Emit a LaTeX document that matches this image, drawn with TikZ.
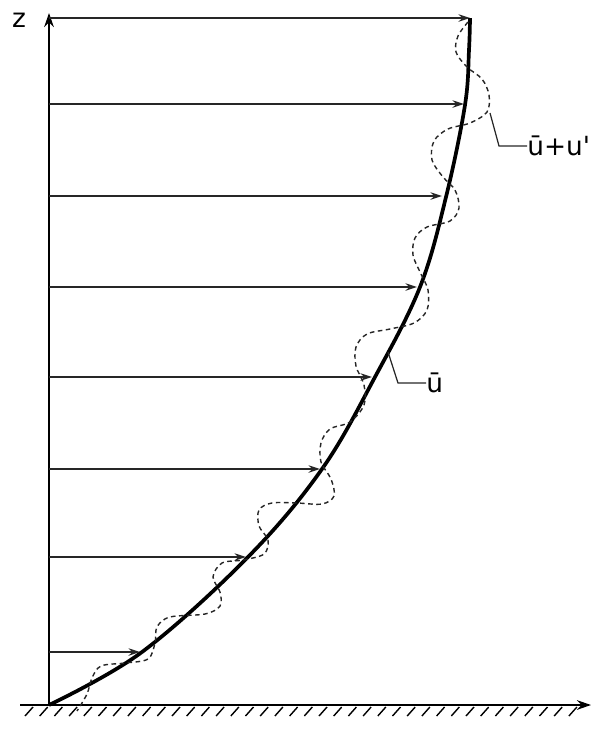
\documentclass[tikz,border=0pt]{standalone}
\usepackage{fontspec}
\setmainfont{DejaVu Sans}
\usetikzlibrary{arrows.meta}

\begin{document}
\begin{tikzpicture}[x=0.02cm, y=-0.02cm,
    axis/.style={line width=1.1pt, -{Stealth[length=8pt, width=5.5pt]}},
    vel/.style={line width=0.8pt, black!85, -{Stealth[length=6.5pt, width=4.2pt]}},
    mean/.style={line width=2.1pt},
    fluct/.style={line width=0.8pt, black!85, dash pattern=on 2.6pt off 2pt},
    leader/.style={line width=0.7pt, black!85},
    lbl/.style={font=\fontsize{15}{18}\selectfont, inner sep=0pt}]

    % 1. Khung hình (giữ đúng tỉ lệ)
    \useasboundingbox (0,0) rectangle (591,731);

    % 2. Các điểm trên profile vận tốc trung bình
    \coordinate (O) at (49,705);
    \coordinate (P1) at (470,18);
    \coordinate (P2) at (464,104);
    \coordinate (P3) at (442,196);
    \coordinate (P4) at (417,287);
    \coordinate (P5) at (372,377);
    \coordinate (P6) at (320,469);
    \coordinate (P7) at (246,557);
    \coordinate (P8) at (140,652);

    % 3. Mặt đất (gạch chéo) và các trục
    \foreach \x in {0,...,37}
        \draw[line width=0.8pt] (33+14.7*\x,707) -- (25+14.7*\x,716);
    \draw[axis] (20,705) -- (591,705);
    \draw[axis] (O) -- (49,13);
    \node[lbl] (z) at (19,20) {z};

    % 4. Các mũi tên vận tốc
    \draw[vel] (O |- P1) -- (P1);
    \draw[vel] (O |- P2) -- (P2);
    \draw[vel] (O |- P3) -- (P3);
    \draw[vel] (O |- P4) -- (P4);
    \draw[vel] (O |- P5) -- (P5);
    \draw[vel] (O |- P6) -- (P6);
    \draw[vel] (O |- P7) -- (P7);
    \draw[vel] (O |- P8) -- (P8);

    % 5. Đường vận tốc trung bình
    \draw[mean] plot[smooth, tension=0.6] coordinates {(49,705) (142,652) (248,557)
        (322,469) (375,377) (420,287) (446,197) (465,105) (469,50) (470,18)};

    % 6. Đường vận tốc tức thời (nét đứt)
    \draw[fluct] plot[smooth, tension=0.55] coordinates {(468,22) (458,36) (456,52)
        (467,67) (482,79) (489,95) (487,112) (470,123) (448,129) (434,141) (432,160)
        (443,177) (455,190) (459,208) (450,221) (427,227) (415,238) (413,255)
        (420,272) (428,290) (427,310) (414,323) (390,329) (367,334) (356,347)
        (356,366) (364,385) (364,405) (350,422) (330,429) (321,443) (321,462)
        (331,479) (334,496) (322,504) (297,503) (272,503) (259,510) (259,526)
        (268,540) (264,554) (243,560) (222,563) (213,577) (220,592) (220,606)
        (205,614) (170,617) (157,627) (155,643) (148,659) (125,663) (101,666)
        (92,678) (87,694) (77,711)};

    % 7. Nhãn
    \node[lbl, anchor=west] (upr) at (527,146) {ū+u\textquotesingle};
    \draw[leader] (490,113) -- (499,146) -- (upr.west);
    \node[lbl, anchor=west] (ubar) at (426,383) {ū};
    \draw[leader] (388,352) -- (398,383) -- (ubar.west);

\end{tikzpicture}
\end{document}
